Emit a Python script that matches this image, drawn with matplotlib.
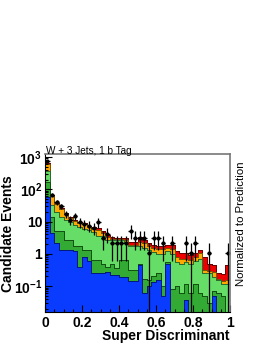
import numpy as np
import matplotlib
matplotlib.use("Agg")
import matplotlib.pyplot as plt
from matplotlib import ticker

plt.rcParams['font.family'] = ['Liberation Sans', 'DejaVu Sans']
plt.rcParams['mathtext.fontset'] = 'custom'
plt.rcParams['mathtext.rm'] = 'Liberation Sans'
plt.rcParams['mathtext.bf'] = 'Liberation Sans:bold'

# 40 bins 0..1
edges = np.linspace(0, 1, 41)

# per-process contributions (bottom to top of the stack)
blue = [59, 4.4, 2.2, 1.3, 1.3, 1.3, 1.2, 0.4, 0.8, 0.6,
        0.25, 0.25, 0.25, 0.28, 0.22, 0.22, 0.19, 0.19, 0.14, 0.14,
        0.46, 0.06, 0.1, 0.13, 0.15, 0.05, 0.5, 0, 0, 0,
        0.037, 0, 0, 0, 0, 0, 0.05, 0, 0, 0]
dgreen = [111, 9.6, 2.8, 3.7, 1.4, 1.4, 0.5, 1.3, 0.5, 0.7,
          0.4, 0.4, 0.25, 0.12, 0.28, 0.15, 0.46, 0.46, 0.18, 0.18,
          0.04, 0.1, 0.05, 0.07, 0.1, 0.05, 0.05, 0.08, 0.1, 0.06,
          0.083, 0.06, 0.12, 0.06, 0.05, 0.03, 0.02, 0.06, 0.05, 0]
lgreen = [210, 19, 15, 9, 8.3, 7.3, 6.1, 5.3, 4.7, 4.2,
          4.15, 2.85, 3.0, 2.3, 2.2, 2.33, 1.95, 1.55, 1.38, 1.38,
          1.2, 1.34, 1.15, 0.9, 0.75, 0.9, 0.65, 0.92, 0.47, 0.44,
          0.45, 0.44, 0.48, 0.64, 0.2, 0.22, 0.12, 0.09, 0.07, 0.12]
orange = [220, 29, 16, 11, 6, 3, 2.7, 2.3, 2.2, 1.3,
          1.2, 1.9, 0.9, 0.6, 0.2, 0.1, 0.2, 0.5, 0.2, 0.2,
          0.7, 0.6, 0.4, 0.4, 0.4, 0.4, 0.3, 0.4, 0.23, 0.2,
          0.13, 0.15, 0.2, 0.35, 0.07, 0.05, 0.09, 0.02, 0.02, 0.03]
red = [30, 5, 2, 2, 1, 1, 0.5, 0.7, 0.8, 0.5,
       1.0, 0.9, 0.8, 0.55, 0.4, 0.3, 0.3, 0.4, 0.5, 0.5,
       0.9, 0.6, 0.4, 0.4, 0.3, 0.3, 0.4, 0.5, 0.4, 0.35,
       0.35, 0.28, 0.25, 0.25, 0.48, 0.2, 0.18, 0.08, 0.09, 0.31]

# observed events, scaled to the prediction
data_counts = [714, 65, 38, 29, 16, 11, 14, 9, 8, 7,
               6, 9, 3, 4, 2, 2, 2, 2, 5, 3,
               3, 3, 1, 3, 3, 2, 0, 2, 0, 0,
               2, 1, 2, 0, 0, 1, 0, 0, 0, 1]
norm = 1.05

layers = [
    (blue, '#0a3cff', '#001a80'),
    (dgreen, '#33aa33', '#145214'),
    (lgreen, '#66dd66', '#2d6b2d'),
    (orange, '#ffaa00', '#7a5200'),
    (red, '#ee0000', '#700000'),
]

fig = plt.figure(figsize=(2.70, 3.49), dpi=100)
ax = fig.add_axes([45/270, 1 - 312/349, 185/270, 158/349])
ax.set_yscale('log')

tops = np.cumsum([np.array(l[0], float) for l in layers], axis=0)
# draw from the top of the stack down, each filled from the floor
for k in range(len(layers) - 1, -1, -1):
    _, fc, ec = layers[k]
    ax.stairs(tops[k], edges, baseline=1e-4, fill=True, facecolor=fc,
              edgecolor=ec, linewidth=0.7)
    ax.stairs(tops[k], edges, baseline=None, color=ec, linewidth=0.7)

centers = 0.5 * (edges[:-1] + edges[1:])
n = np.array(data_counts, float)
d = n * norm
err = np.sqrt(n) * norm
m = n > 0
lo = np.minimum(err[m], d[m] - 1e-4)
ax.errorbar(centers[m], d[m], yerr=[lo, err[m]], xerr=0.0125, fmt='o',
            color='black', markersize=2.0, elinewidth=0.9, capsize=0)

ax.set_xlim(0, 1)
ax.set_ylim(0.0157, 1238)

ax.xaxis.set_major_locator(ticker.MultipleLocator(0.2))
ax.xaxis.set_minor_locator(ticker.MultipleLocator(0.05))
ax.xaxis.set_major_formatter(ticker.FuncFormatter(
    lambda v, p: '%g' % round(v, 1)))
ax.yaxis.set_major_locator(ticker.FixedLocator([0.1, 1, 10, 100, 1000]))
ylabels = {0.1: r'$\mathbf{10^{-1}}$', 1: '1', 10: '10',
           100: r'$\mathbf{10^{2}}$', 1000: r'$\mathbf{10^{3}}$'}
ax.yaxis.set_major_formatter(ticker.FuncFormatter(
    lambda v, p: ylabels.get(round(v, 3) if v < 1 else round(v), '')))
ax.yaxis.set_minor_locator(ticker.LogLocator(base=10, subs=np.arange(2, 10)))
ax.yaxis.set_minor_formatter(ticker.NullFormatter())

ax.tick_params(which='both', direction='in', top=False, right=False,
               labelsize=10, width=0.8)
ax.tick_params(which='major', length=5)
ax.tick_params(which='minor', length=2.5)
for lab in ax.get_xticklabels() + ax.get_yticklabels():
    lab.set_fontweight('bold')
ax.tick_params(axis='x', pad=3)
ax.tick_params(axis='y', pad=2)

for s in ['top', 'right']:
    ax.spines[s].set_color('#777777')
    ax.spines[s].set_linewidth(1.2)
for s in ['left', 'bottom']:
    ax.spines[s].set_linewidth(0.8)

fig.text(230/270, 1 - 336/349, 'Super Discriminant', ha='right', va='center',
         fontsize=10, fontweight='bold')
fig.text(8/270, 1 - 234/349, 'Candidate Events', ha='center', va='center',
         rotation=90, fontsize=10, fontweight='bold')
fig.text(46/270, 1 - 153.5/349, 'W + 3 Jets, 1 b Tag', ha='left',
         va='baseline', fontsize=7.2)
fig.text(241/270, 1 - 224/349, 'Normalized to Prediction', ha='center',
         va='center', rotation=90, fontsize=8.2)

fig.savefig('out.png', dpi=100)
